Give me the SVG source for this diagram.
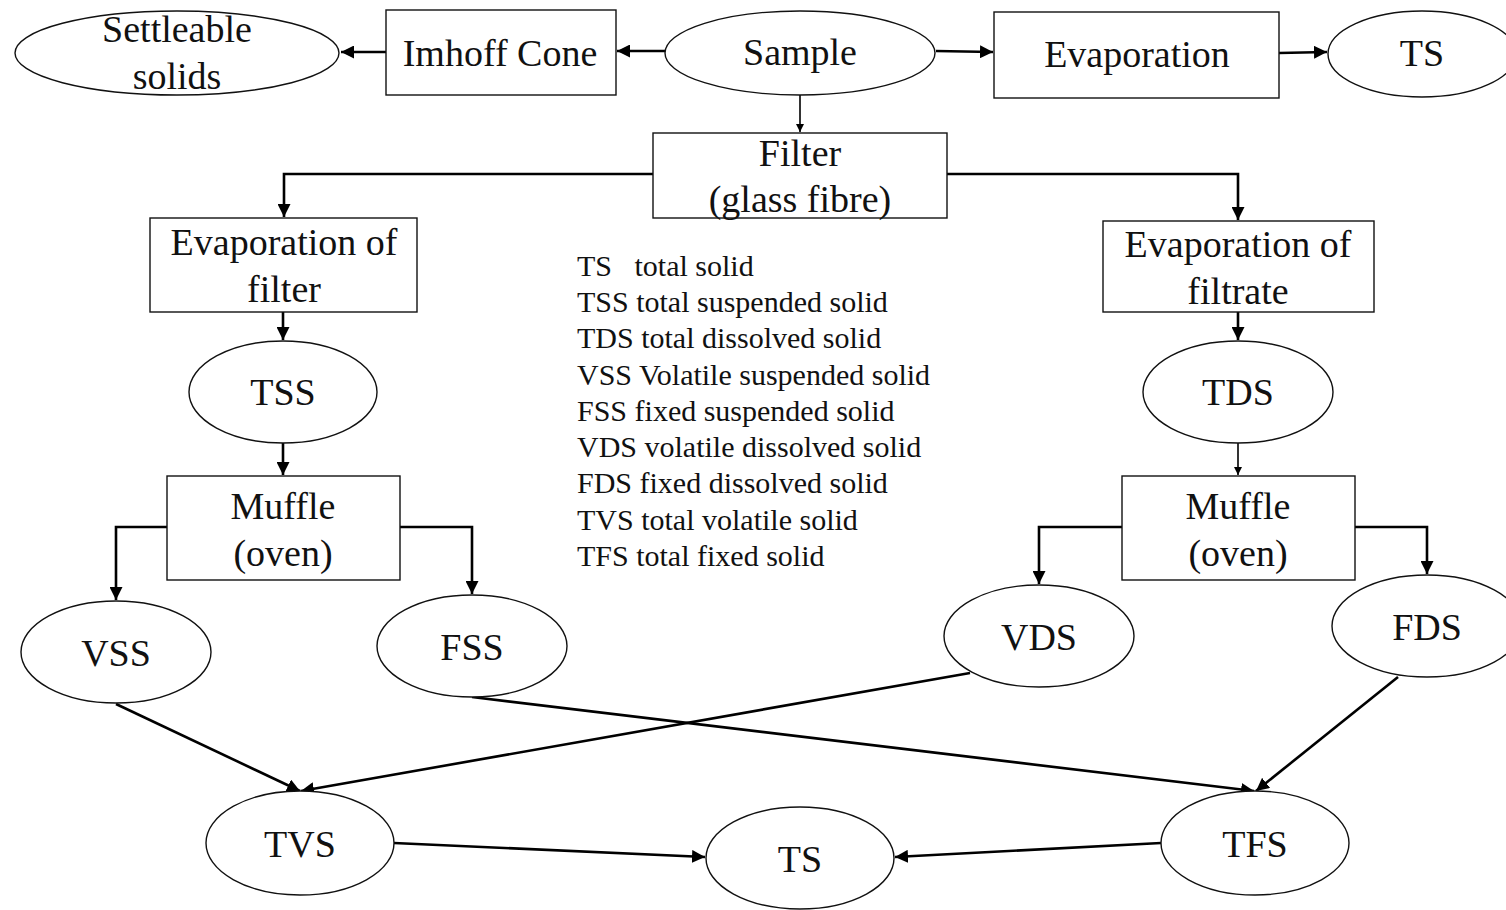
<svg xmlns="http://www.w3.org/2000/svg" width="1506" height="910" viewBox="0 0 1506 910">
<defs>
<style>
.n{fill:#fff;stroke:#111;stroke-width:1.4}
.t{font-family:"Liberation Serif","Times New Roman",serif;font-size:38px;fill:#111;text-anchor:middle}
.lg{font-family:"Liberation Serif","Times New Roman",serif;font-size:30px;fill:#111}
.c{fill:none;stroke:#000;stroke-width:2.6}
</style>
<marker id="ah" viewBox="0 0 10 10" refX="10" refY="5" markerWidth="5" markerHeight="5" orient="auto" markerUnits="strokeWidth">
<path d="M0,0 L10,5 L0,10 z" fill="#000"/>
</marker>
</defs>
<rect width="1506" height="910" fill="#fff"/>

<g id="connectors">
<line class="c" x1="665" y1="51" x2="617" y2="51" marker-end="url(#ah)"/>
<line class="c" x1="386" y1="52" x2="341" y2="52" marker-end="url(#ah)"/>
<line class="c" x1="936" y1="51" x2="993" y2="52" marker-end="url(#ah)"/>
<line class="c" x1="1279" y1="53" x2="1327" y2="52" marker-end="url(#ah)"/>
<line class="c" x1="800" y1="95" x2="800" y2="132" marker-end="url(#ah)" style="stroke-width:1.6"/>
<path class="c" d="M653,174 H284 V217" marker-end="url(#ah)"/>
<path class="c" d="M947,174 H1238 V220" marker-end="url(#ah)"/>
<line class="c" x1="283" y1="312" x2="283" y2="340" marker-end="url(#ah)"/>
<line class="c" x1="283" y1="443" x2="283" y2="475" marker-end="url(#ah)"/>
<path class="c" d="M167,527 H116 V600" marker-end="url(#ah)"/>
<path class="c" d="M400,527 H472 V594" marker-end="url(#ah)"/>
<line class="c" x1="1238" y1="312" x2="1238" y2="340" marker-end="url(#ah)"/>
<line class="c" x1="1238" y1="443" x2="1238" y2="475" marker-end="url(#ah)" style="stroke-width:1.6"/>
<path class="c" d="M1122,527 H1039 V584" marker-end="url(#ah)"/>
<path class="c" d="M1355,527 H1427 V574" marker-end="url(#ah)"/>
<line class="c" x1="116" y1="704" x2="300" y2="791" marker-end="url(#ah)"/>
<line class="c" x1="970" y1="673" x2="301" y2="791" marker-end="url(#ah)"/>
<line class="c" x1="472" y1="697" x2="1254" y2="791" marker-end="url(#ah)"/>
<line class="c" x1="1398" y1="677" x2="1256" y2="791" marker-end="url(#ah)"/>
<line class="c" x1="394" y1="843" x2="705" y2="857" marker-end="url(#ah)"/>
<line class="c" x1="1161" y1="843" x2="895" y2="857" marker-end="url(#ah)"/>
</g>

<g id="settleable"><ellipse class="n" cx="177" cy="53" rx="162" ry="42"/><text class="t" x="177" y="42">Settleable</text><text class="t" x="177" y="89">solids</text></g>
<g id="imhoff"><rect class="n" x="386" y="10" width="230" height="85"/><text class="t" x="500" y="66">Imhoff Cone</text></g>
<g id="sample"><ellipse class="n" cx="800" cy="53" rx="135" ry="42"/><text class="t" x="800" y="65">Sample</text></g>
<g id="evaporation"><rect class="n" x="994" y="12" width="285" height="86"/><text class="t" x="1137" y="67">Evaporation</text></g>
<g id="ts-top"><ellipse class="n" cx="1422" cy="54" rx="94" ry="43"/><text class="t" x="1422" y="66">TS</text></g>
<g id="filter"><rect class="n" x="653" y="133" width="294" height="85"/><text class="t" x="800" y="166">Filter</text><text class="t" x="800" y="212">(glass fibre)</text></g>
<g id="evap-filter"><rect class="n" x="150" y="218" width="267" height="94"/><text class="t" x="284" y="255">Evaporation of</text><text class="t" x="284" y="302">filter</text></g>
<g id="evap-filtrate"><rect class="n" x="1103" y="221" width="271" height="91"/><text class="t" x="1238" y="257">Evaporation of</text><text class="t" x="1238" y="304">filtrate</text></g>
<g id="tss"><ellipse class="n" cx="283" cy="392" rx="94" ry="51"/><text class="t" x="283" y="405">TSS</text></g>
<g id="tds"><ellipse class="n" cx="1238" cy="392" rx="95" ry="51"/><text class="t" x="1238" y="405">TDS</text></g>
<g id="muffle-left"><rect class="n" x="167" y="476" width="233" height="104"/><text class="t" x="283" y="519">Muffle</text><text class="t" x="283" y="566">(oven)</text></g>
<g id="muffle-right"><rect class="n" x="1122" y="476" width="233" height="104"/><text class="t" x="1238" y="519">Muffle</text><text class="t" x="1238" y="566">(oven)</text></g>
<g id="vss"><ellipse class="n" cx="116" cy="652" rx="95" ry="51"/><text class="t" x="116" y="666">VSS</text></g>
<g id="fss"><ellipse class="n" cx="472" cy="646" rx="95" ry="51"/><text class="t" x="472" y="660">FSS</text></g>
<g id="vds"><ellipse class="n" cx="1039" cy="636" rx="95" ry="51"/><text class="t" x="1039" y="650">VDS</text></g>
<g id="fds"><ellipse class="n" cx="1427" cy="626" rx="95" ry="51"/><text class="t" x="1427" y="640">FDS</text></g>
<g id="tvs"><ellipse class="n" cx="300" cy="843" rx="94" ry="52"/><text class="t" x="300" y="857">TVS</text></g>
<g id="ts-bottom"><ellipse class="n" cx="800" cy="858" rx="94" ry="51"/><text class="t" x="800" y="872">TS</text></g>
<g id="tfs"><ellipse class="n" cx="1255" cy="843" rx="94" ry="52"/><text class="t" x="1255" y="857">TFS</text></g>

<g id="legend">
<text class="lg" x="577" y="276" xml:space="preserve">TS   total solid</text>
<text class="lg" x="577" y="312">TSS total suspended solid</text>
<text class="lg" x="577" y="348">TDS total dissolved solid</text>
<text class="lg" x="577" y="385">VSS Volatile suspended solid</text>
<text class="lg" x="577" y="421">FSS fixed suspended solid</text>
<text class="lg" x="577" y="457">VDS volatile dissolved solid</text>
<text class="lg" x="577" y="493">FDS fixed dissolved solid</text>
<text class="lg" x="577" y="530">TVS total volatile solid</text>
<text class="lg" x="577" y="566">TFS total fixed solid</text>
</g>
</svg>
